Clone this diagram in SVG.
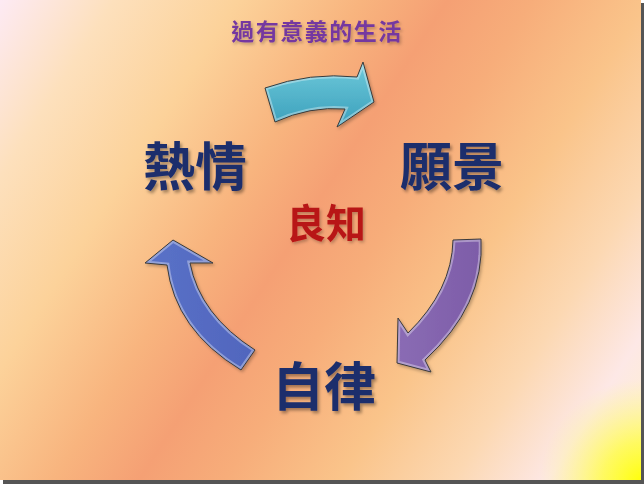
<svg xmlns="http://www.w3.org/2000/svg" width="644" height="484" viewBox="0 0 644 484">
  <defs>
    <linearGradient id="bg" gradientUnits="userSpaceOnUse" x1="0" y1="0" x2="674" y2="433">
      <stop offset="0" stop-color="#fdeaf4"/>
      <stop offset="0.12" stop-color="#fde0bc"/>
      <stop offset="0.25" stop-color="#fcd29a"/>
      <stop offset="0.38" stop-color="#f8b47e"/>
      <stop offset="0.47" stop-color="#f5a074"/>
      <stop offset="0.56" stop-color="#f7ad7a"/>
      <stop offset="0.68" stop-color="#fac48a"/>
      <stop offset="0.8" stop-color="#fcd8b2"/>
      <stop offset="0.9" stop-color="#fde8e6"/>
      <stop offset="1" stop-color="#fff2c8"/>
    </linearGradient>
    <radialGradient id="yel" gradientUnits="userSpaceOnUse" cx="644" cy="484" r="105">
      <stop offset="0" stop-color="#ffff00" stop-opacity="1"/>
      <stop offset="0.4" stop-color="#ffff30" stop-opacity="0.7"/>
      <stop offset="1" stop-color="#ffff80" stop-opacity="0"/>
    </radialGradient>
    <linearGradient id="cyan" x1="0" y1="0" x2="0" y2="1">
      <stop offset="0" stop-color="#6fcadb"/>
      <stop offset="1" stop-color="#3a9fbb"/>
    </linearGradient>
    <linearGradient id="purple" x1="0" y1="0" x2="1" y2="0">
      <stop offset="0" stop-color="#8a6cb4"/>
      <stop offset="1" stop-color="#7d5ca8"/>
    </linearGradient>
    <linearGradient id="blue" x1="0" y1="0" x2="1" y2="0">
      <stop offset="0" stop-color="#5a72c8"/>
      <stop offset="1" stop-color="#5065bd"/>
    </linearGradient>
    <path id="pCyan" d="M265,88 Q310,72 357,77 L363,62 L374,102 L337,127 L345,109 Q310,106 275,122 Z"/>
    <path id="pPurple" d="M453,240 L481,239 Q485,305 425,360 L431,372 L397,363 L398,318 L408,333 Q452,290 453,240 Z"/>
    <path id="pBlue" d="M173,240 L213,263 L190,263 Q200,315 255,350 L241,370 Q175,330 167,265 L145,263 Z"/>
    <clipPath id="cCyan"><use href="#pCyan"/></clipPath>
    <clipPath id="cPurple"><use href="#pPurple"/></clipPath>
    <clipPath id="cBlue"><use href="#pBlue"/></clipPath>
    <filter id="sh" x="-20%" y="-20%" width="140%" height="140%">
      <feDropShadow dx="2" dy="2.5" stdDeviation="1.5" flood-color="#000" flood-opacity="0.35"/>
    </filter>
    <filter id="ash" x="-20%" y="-20%" width="140%" height="140%">
      <feDropShadow dx="1.5" dy="2" stdDeviation="1.5" flood-color="#000" flood-opacity="0.25"/>
    </filter>
  </defs>
  <style>
    .t { font-family: "Noto Sans CJK TC", "Noto Sans CJK SC", sans-serif; font-weight: 700; text-anchor: middle; }
    .big { font-size: 52px; fill: #1c2e6c; }
    .rim { fill: none; stroke: #ffffff; stroke-width: 5; stroke-opacity: 0.35; }
    .edge { fill: none; stroke: #3a3a3a; stroke-width: 1; stroke-linejoin: round; }
  </style>

  <rect x="3" y="3" width="641" height="481" fill="#555555"/>
  <rect x="0" y="0" width="641" height="480" fill="url(#bg)"/>
  <rect x="0" y="0" width="641" height="480" fill="url(#yel)"/>

  <g id="connectors">
    <g id="arrow-cyan" filter="url(#ash)">
      <use href="#pCyan" fill="url(#cyan)"/>
      <use href="#pCyan" class="rim" clip-path="url(#cCyan)"/>
      <use href="#pCyan" class="edge"/>
    </g>
    <g id="arrow-purple" filter="url(#ash)">
      <use href="#pPurple" fill="url(#purple)"/>
      <use href="#pPurple" class="rim" clip-path="url(#cPurple)"/>
      <use href="#pPurple" class="edge"/>
    </g>
    <g id="arrow-blue" filter="url(#ash)">
      <use href="#pBlue" fill="url(#blue)"/>
      <use href="#pBlue" class="rim" clip-path="url(#cBlue)"/>
      <use href="#pBlue" class="edge"/>
    </g>
  </g>

  <g id="label-top">
    <text class="t" x="317" y="40" font-size="23" letter-spacing="1.5" fill="#7438a0" filter="url(#ash)">過有意義的生活</text>
  </g>
  <g id="node-passion">
    <text class="t big" x="195" y="186" filter="url(#sh)">熱情</text>
  </g>
  <g id="node-vision">
    <text class="t big" x="452" y="186" filter="url(#sh)">願景</text>
  </g>
  <g id="node-discipline">
    <text class="t big" x="324" y="406" filter="url(#sh)">自律</text>
  </g>
  <g id="node-conscience">
    <text class="t" x="326" y="238" font-size="40" fill="#b81818" filter="url(#ash)">良知</text>
  </g>
</svg>
